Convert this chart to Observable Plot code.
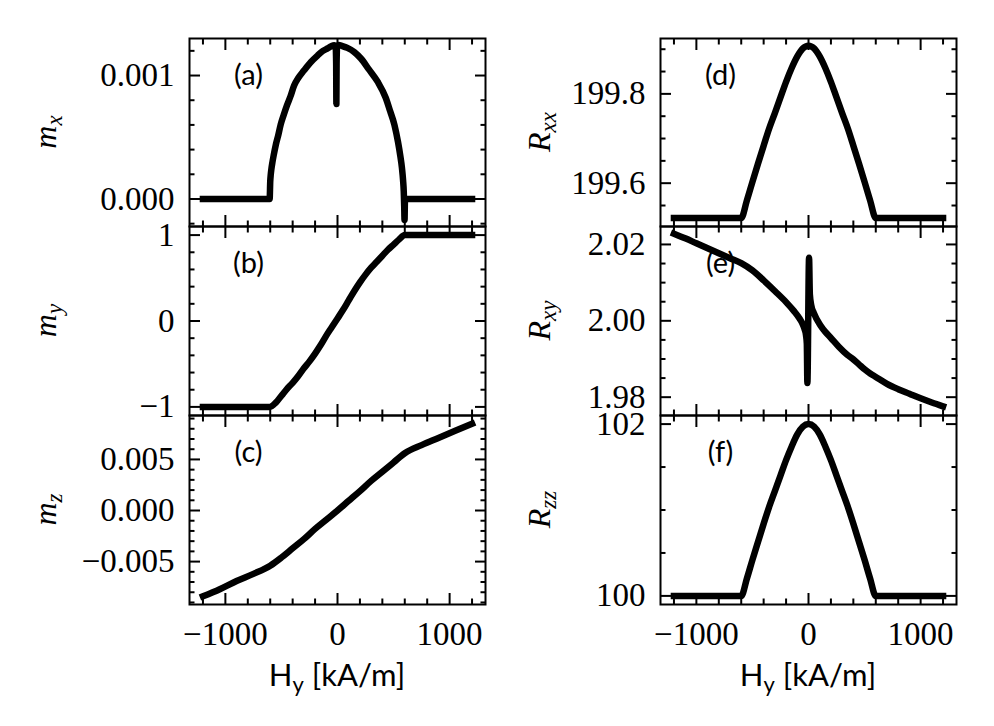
<!DOCTYPE html>
<html><head><meta charset="utf-8">
<script src="https://cdn.jsdelivr.net/npm/d3@7"></script>
<script src="https://cdn.jsdelivr.net/npm/@observablehq/plot@0.6"></script>
<style>
body{margin:0;background:#fff;}
#root{position:relative;width:994px;height:726px;background:#fff;overflow:hidden}
#root svg{position:absolute;overflow:visible;background:none}
</style></head><body><div id="root"></div>
<script>
// ---- data (H in kA/m) ----
const H_a = [-1200, -605, -600, -595, -590, -580, -570, -550, -530, -506, -480, -450, -420, -387, -350, -300, -237, -180, -130, -88, -55, -30, -17, -12, -10, -8, -3, 10, 40, 88, 150, 209, 280, 358, 430, 470, 508, 540, 560, 575, 585, 591, 595, 598, 602, 1200];
const mx  = [0, 0, 0.00014, 0.0002, 0.00024, 0.0003, 0.00035, 0.00044, 0.00051, 0.000605, 0.00068, 0.00076, 0.00083, 0.00092, 0.00098, 0.00104, 0.00111, 0.00116, 0.0012, 0.00122, 0.001238, 0.001245, 0.00123, 0.0011, 0.00077, 0.0011, 0.00123, 0.001248, 0.00124, 0.001224, 0.00119, 0.001138, 0.00105, 0.00095, 0.00082, 0.00071, 0.0006, 0.00046, 0.00035, 0.00025, 0.00015, 0.00006, -0.00006, -0.00017, 0, 0];

const H_b = [-1200, -605, -550, -500, -450, -400, -350, -300, -250, -200, -150, -100, -50, 0, 50, 100, 150, 200, 250, 300, 350, 400, 450, 500, 550, 600, 1200];
const my  = [-1, -1, -0.95, -0.87, -0.79, -0.72, -0.64, -0.55, -0.47, -0.38, -0.28, -0.17, -0.07, 0.03, 0.13, 0.24, 0.35, 0.45, 0.54, 0.62, 0.69, 0.76, 0.83, 0.89, 0.95, 1, 1];

const H_c = [-1200, -1050, -900, -750, -600, -500, -400, -300, -200, -100, 0, 100, 200, 300, 400, 500, 600, 750, 900, 1050, 1200];
const mz  = [-0.0084, -0.0077, -0.0069, -0.0062, -0.0054, -0.0046, -0.0037, -0.0028, -0.0018, -0.0009, 0, 0.00095, 0.0019, 0.0029, 0.0038, 0.0047, 0.0056, 0.0064, 0.0071, 0.0078, 0.0085];

const H_d = [-1200, -600, -550, -500, -450, -400, -350, -300, -250, -200, -150, -100, -50, 0, 50, 100, 150, 200, 250, 300, 350, 400, 450, 500, 550, 600, 1200];
const Rxx = [199.522, 199.522, 199.561, 199.603, 199.644, 199.684, 199.723, 199.757, 199.792, 199.827, 199.858, 199.884, 199.902, 199.908, 199.902, 199.884, 199.858, 199.827, 199.792, 199.757, 199.723, 199.684, 199.644, 199.603, 199.561, 199.522, 199.522];

const H_e = [-1200, -1100, -1000, -900, -800, -700, -600, -500, -400, -300, -200, -131, -80, -56, -35, -22, -15, -10, 5, 12, 25, 47, 107, 150, 200, 270, 345, 400, 450, 500, 550, 600, 700, 800, 900, 1000, 1100, 1200];
const Rxy = [2.0228, 2.0216, 2.0203, 2.0190, 2.0177, 2.0164, 2.0151, 2.0132, 2.0106, 2.0078, 2.0049, 2.0026, 2.0006, 1.9994, 1.9978, 1.9962, 1.9940, 1.9837, 2.0165, 2.0070, 2.0040, 2.0021, 1.9988, 1.9971, 1.9955, 1.9932, 1.9911, 1.9899, 1.9886, 1.9873, 1.9862, 1.9853, 1.9835, 1.9821, 1.9809, 1.9797, 1.9786, 1.9776];

const H_f = [-1200, -600, -550, -500, -450, -400, -350, -300, -250, -200, -150, -100, -50, 0, 50, 100, 150, 200, 250, 300, 350, 400, 450, 500, 550, 600, 1200];
const Rzz = [100, 100, 100.20, 100.42, 100.63, 100.84, 101.04, 101.22, 101.40, 101.58, 101.74, 101.88, 101.97, 102, 101.97, 101.88, 101.74, 101.58, 101.40, 101.22, 101.04, 100.84, 100.63, 100.42, 100.20, 100, 100];

// ---- ticks ----
const xMajor = [-1000, 0, 1000];
const xMinor = [-1200, -800, -600, -400, -200, 200, 400, 600, 800, 1200];
const yMajor_a = [0, 0.001], yMinor_a = [-0.0002, 0.0002, 0.0004, 0.0006, 0.0008, 0.0012];
const yMajor_b = [-1, 0, 1], yMinor_b = [-0.8, -0.6, -0.4, -0.2, 0.2, 0.4, 0.6, 0.8];
const yMajor_c = [-0.005, 0, 0.005], yMinor_c = [-0.009, -0.008, -0.007, -0.006, -0.004, -0.003, -0.002, -0.001, 0.001, 0.002, 0.003, 0.004, 0.006, 0.007, 0.008, 0.009];
const yMajor_d = [199.6, 199.8], yMinor_d = [199.55, 199.65, 199.7, 199.75, 199.85, 199.9];
const yMajor_e = [1.98, 2.00, 2.02], yMinor_e = [1.985, 1.99, 1.995, 2.005, 2.01, 2.015];
const yMajor_f = [100, 102], yMinor_f = [100.5, 101, 101.5];

const tags = ["(a)", "(b)", "(c)", "(d)", "(e)", "(f)"];
const yLabels = [["m", "x"], ["m", "y"], ["m", "z"], ["R", "xx"], ["R", "xy"], ["R", "zz"]];
const xLabel = ["H", "y", " [kA/m]"];

const minus = s => s.replace("-", "\u2212");
const fmts = {
  a: d => minus(d3.format(".3f")(d)),
  b: d => minus(String(d)),
  c: d => minus(d3.format(".3f")(d)),
  d: d => d3.format(".1f")(d),
  e: d => d3.format(".2f")(d),
  f: d => String(d),
  x: d => minus(String(d))
};

const root = document.getElementById("root");
const MAJ = 11, MIN = 5.5, TW = 2;
const SERIF = "Liberation Serif", SANS = "Lato";
const TICKFS = 33;

function panel(o) {
  const data = o.H.map((h, i) => ({H: h, v: o.V[i]}));
  const marks = [
    Plot.text([o.tag], {text: d => d, frameAnchor: "top-left", dx: o.tagDx, dy: 37, textAnchor: "middle", lineAnchor: "middle", fontFamily: SANS, fontSize: 29}),
    Plot.line(data, {x: "H", y: "v", curve: "monotone-x", stroke: "black", strokeWidth: 6.5, strokeLinejoin: "round", strokeLinecap: "square"}),
    Plot.frame({stroke: "black", strokeWidth: 2}),
    // inward ticks on all four sides
    Plot.axisX(xMajor, {anchor: "bottom", tickSize: MAJ, dy: -MAJ, strokeWidth: TW, tickFormat: () => "", label: null}),
    Plot.axisX(xMinor, {anchor: "bottom", tickSize: MIN, dy: -MIN, strokeWidth: TW, tickFormat: () => "", label: null}),
    Plot.axisX(xMajor, {anchor: "top", tickSize: MAJ, dy: MAJ, strokeWidth: TW, tickFormat: () => "", label: null}),
    Plot.axisX(xMinor, {anchor: "top", tickSize: MIN, dy: MIN, strokeWidth: TW, tickFormat: () => "", label: null}),
    Plot.axisY(o.yMajor, {anchor: "left", tickSize: MAJ, dx: MAJ, strokeWidth: TW, tickFormat: () => "", label: null}),
    Plot.axisY(o.yMinor, {anchor: "left", tickSize: MIN, dx: MIN, strokeWidth: TW, tickFormat: () => "", label: null}),
    Plot.axisY(o.yMajor, {anchor: "right", tickSize: MAJ, dx: -MAJ, strokeWidth: TW, tickFormat: () => "", label: null}),
    Plot.axisY(o.yMinor, {anchor: "right", tickSize: MIN, dx: -MIN, strokeWidth: TW, tickFormat: () => "", label: null}),
    // tick labels
    Plot.axisY(o.yMajor, {anchor: "left", tickSize: 0, tickPadding: 15, tickFormat: o.yFmt, label: null, fontFamily: SERIF, fontSize: TICKFS})
  ];
  if (o.bottom) marks.push(Plot.axisX(xMajor, {anchor: "bottom", tickSize: 0, tickPadding: 17, tickFormat: fmts.x, label: null, fontFamily: SERIF, fontSize: TICKFS}));
  const svg = Plot.plot({
    width: o.width, height: o.height,
    marginLeft: o.mL, marginRight: o.mR, marginTop: o.mT, marginBottom: o.mB,
    x: {domain: [-1320, 1320]},
    y: {domain: o.yDomain},
    style: {overflow: "visible", background: "none", color: "black"},
    marks
  });
  svg.style.left = o.left + "px";
  svg.style.top = o.top + "px";
  root.append(svg);
  const s = d3.select(svg);
  // rotated y label with subscript
  const t = s.append("text")
    .attr("transform", `translate(${o.ylx},${o.yly}) rotate(-90)`)
    .attr("text-anchor", "middle")
    .attr("font-family", SERIF).attr("font-style", "italic").attr("font-size", 32).attr("fill", "black");
  t.append("tspan").text(o.ylab[0]);
  t.append("tspan").attr("dy", 6).attr("font-size", 23).text(o.ylab[1]);
  if (o.bottom) {
    const xt = s.append("text").attr("x", o.xlx).attr("y", o.xly)
      .attr("text-anchor", "middle").attr("font-family", SANS).attr("font-size", 31).attr("fill", "black");
    xt.append("tspan").text(xLabel[0]);
    xt.append("tspan").attr("dy", 6).attr("font-size", 22).text(xLabel[1]);
    xt.append("tspan").attr("dy", -6).text(xLabel[2]);
  }
}

const rows = [
  {top: 0, height: 226, mT: 38, mB: 0, yly: 132},
  {top: 226, height: 189, mT: 0, mB: 0, yly: 94.5},
  {top: 415, height: 311, mT: 0, mB: 122, yly: 94.5}
];
const cols = [
  {left: 0, width: 497, mL: 189, mR: 12, ylx: 56, xlx: 337, tagDx: 59},
  {left: 497, width: 497, mL: 163, mR: 38, ylx: 53, xlx: 311, tagDx: 60}
];
const specs = [
  {H: H_a, V: mx, yDomain: [-0.000223, 0.0013], yMajor: yMajor_a, yMinor: yMinor_a, yFmt: fmts.a},
  {H: H_b, V: my, yDomain: [-1.1, 1.1], yMajor: yMajor_b, yMinor: yMinor_b, yFmt: fmts.b},
  {H: H_c, V: mz, yDomain: [-0.0092, 0.0093], yMajor: yMajor_c, yMinor: yMinor_c, yFmt: fmts.c},
  {H: H_d, V: Rxx, yDomain: [199.503, 199.924], yMajor: yMajor_d, yMinor: yMinor_d, yFmt: fmts.d},
  {H: H_e, V: Rxy, yDomain: [1.9752, 2.0247], yMajor: yMajor_e, yMinor: yMinor_e, yFmt: fmts.e},
  {H: H_f, V: Rzz, yDomain: [99.9, 102.1], yMajor: yMajor_f, yMinor: yMinor_f, yFmt: fmts.f}
];
specs.forEach((sp, i) => {
  const c = cols[Math.floor(i / 3)], r = rows[i % 3];
  panel({...sp, ...c, ...r, tag: tags[i], ylab: yLabels[i], bottom: i % 3 === 2, xly: 271});
});
</script>
</body></html>
